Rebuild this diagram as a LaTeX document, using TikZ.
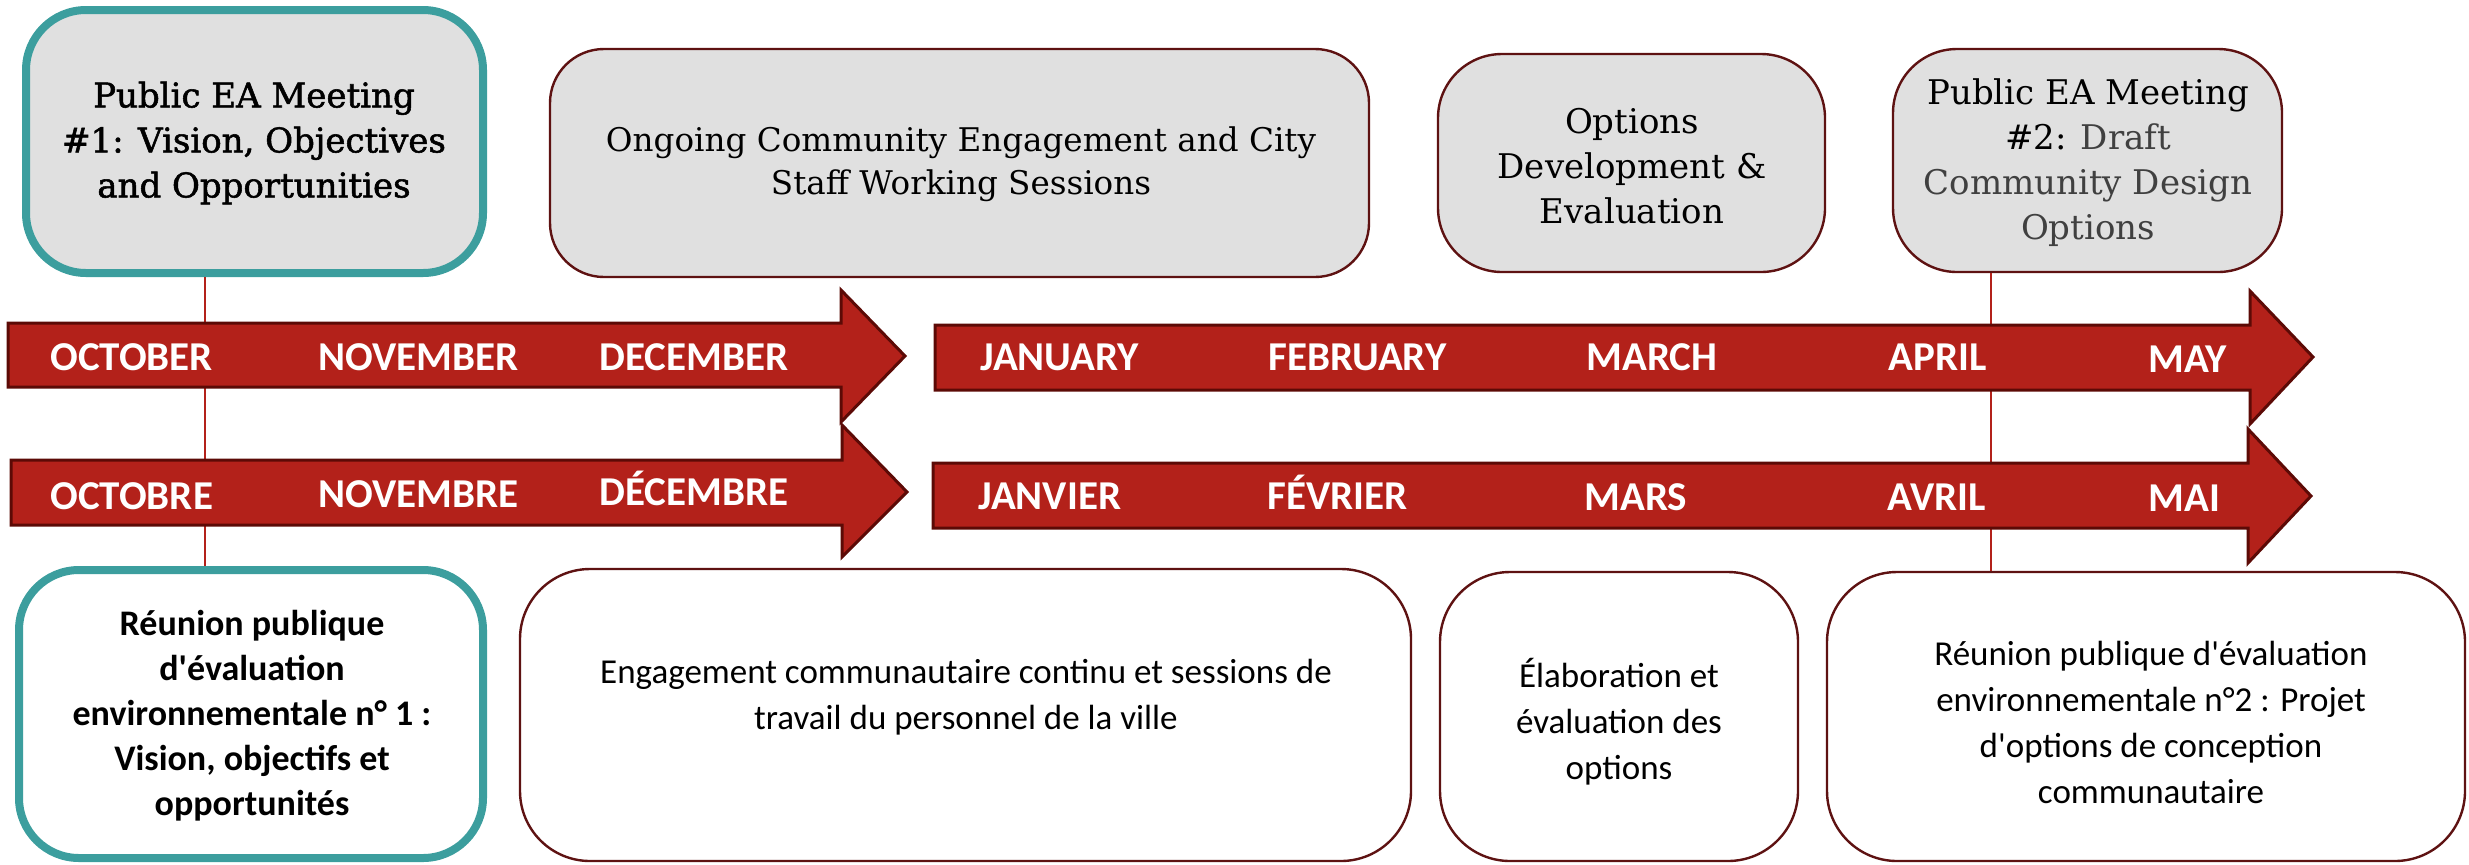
\documentclass[tikz,border=0pt]{standalone}
\usepackage{fontspec}
\setmainfont{DejaVu Serif}
\newfontfamily\calfont{Carlito}
\newfontfamily\serfont{DejaVu Serif}
\newfontfamily\serMfont[FakeBold=1.6]{DejaVu Serif}
\definecolor{arrred}{HTML}{B3211A}
\definecolor{arrdark}{HTML}{5C0A06}
\definecolor{boxgray}{HTML}{E0E0E0}
\definecolor{boxline}{HTML}{5E1212}
\definecolor{tealc}{HTML}{3C9E9E}
\definecolor{greytxt}{HTML}{404040}
\begin{document}
\begin{tikzpicture}[x=0.5pt,y=-0.5pt,
  graybox/.style={draw=boxline, line width=1.2pt, fill=boxgray, rounded corners=30pt, inner sep=0pt},
  whitebox/.style={draw=boxline, line width=1.2pt, fill=white, rounded corners=35pt, inner sep=0pt},
  tealgray/.style={draw=tealc, line width=4pt, fill=boxgray, rounded corners=30pt, inner sep=0pt},
  tealwhite/.style={draw=tealc, line width=4pt, fill=white, rounded corners=30pt, inner sep=0pt},
  arrowbody/.style={fill=arrred, draw=arrdark, line width=1.5pt, line join=miter},
  month/.style={anchor=base west, inner sep=0pt, text=white, font=\calfont\bfseries\fontsize{20.5}{24}\selectfont},
  sertxt/.style={align=center, inner sep=0pt, font=\serfont\fontsize{17}{22.5}\selectfont},
  sertxtM/.style={align=center, inner sep=0pt, font=\serMfont\fontsize{17}{22.5}\selectfont},
  caltxt/.style={align=center, inner sep=0pt, font=\calfont\fontsize{17.5}{23}\selectfont},
  caltxtB/.style={align=center, inner sep=0pt, font=\calfont\bfseries\fontsize{18}{22.5}\selectfont},
  conn/.style={draw=arrred, line width=1.4pt}]
\useasboundingbox (0,0) rectangle (2469,864);

% boxes (positions)
\node[tealgray, minimum width=228.5pt, minimum height=131.5pt] (b1) at (254.5,141.5) {};
\node[graybox, rounded corners=27pt, minimum width=409.5pt, minimum height=114pt] (b2) at (959.5,163) {};
\node[graybox, rounded corners=32pt, minimum width=193.5pt, minimum height=109pt] (b3) at (1631.5,163) {};
\node[graybox, rounded corners=32pt, minimum width=194.5pt, minimum height=111.5pt] (b4) at (2087.5,160.5) {};
\node[tealwhite, minimum width=232pt, minimum height=144pt] (b5) at (251,714) {};
\node[whitebox, minimum width=445.5pt, minimum height=146pt] (b6) at (965.5,715) {};
\node[whitebox, minimum width=179pt, minimum height=144.5pt] (b7) at (1619,716.5) {};
\node[whitebox, minimum width=319pt, minimum height=144.5pt] (b8) at (2146,716.5) {};

% connectors (behind arrows)
\coordinate (l1) at (205,0);
\coordinate (l2) at (1991,0);
\draw[conn] (l1 |- b1.south) -- (l1 |- b5.north);
\draw[conn] (l2 |- b4.south) -- (l2 |- b8.north);

% timeline arrows
\path[arrowbody] (8,323) -- (841,323) -- (841,290) -- (905,356) -- (841,422) -- (841,387) -- (8,387) -- cycle;
\path[arrowbody] (11,460) -- (842,460) -- (842,425) -- (907,492) -- (842,557) -- (842,525) -- (11,525) -- cycle;
\path[arrowbody] (935,325) -- (2250,325) -- (2250,291) -- (2313,357) -- (2250,424) -- (2250,390) -- (935,390) -- cycle;
\path[arrowbody] (933,463) -- (2248,463) -- (2248,429) -- (2311,496) -- (2248,563) -- (2248,528) -- (933,528) -- cycle;

% month labels
\node[month] (m1) at (50,370) {OCTOBER};
\node[month] (m2) at (318,370) {NOVEMBER};
\node[month] (m3) at (599,370) {DECEMBER};
\node[month] (m4) at (980,370) {JANUARY};
\node[month] (m5) at (1268,370) {FEBRUARY};
\node[month] (m6) at (1586,370) {MARCH};
\node[month] (m7) at (1888,370) {APRIL};
\node[month] (m8) at (2148,372) {MAY};
\node[month] (f1) at (50,509) {OCTOBRE};
\node[month] (f2) at (318,507) {NOVEMBRE};
\node[month] (f3) at (599,505) {DÉCEMBRE};
\node[month] (f4) at (978,509) {JANVIER};
\node[month] (f5) at (1267,509) {FÉVRIER};
\node[month] (f6) at (1584,510) {MARS};
\node[month] (f7) at (1887,510) {AVRIL};
\node[month] (f8) at (2148,511) {MAI};

% box texts
\node[sertxtM] (t1) at (254,143) {Public EA Meeting\\\#1: Vision, Objectives\\and Opportunities};
\node[sertxt, font=\serfont\fontsize{16.3}{21.5}\selectfont] (t2) at (961,164) {Ongoing Community Engagement and City\\Staff Working Sessions};
\node[sertxt] (t3) at (1632,166) {Options\\Development \&\\Evaluation};
\node[sertxt] (t4) at (2088,163) {Public EA Meeting\\\#2: \textcolor{greytxt}{Draft}\\\textcolor{greytxt}{Community Design}\\\textcolor{greytxt}{Options}};
\node[caltxtB] (t5) at (252,716) {Réunion publique\\d'évaluation\\environnementale n° 1 :\\Vision, objectifs et\\opportunités};
\node[caltxt] (t6) at (966,697) {Engagement communautaire continu et sessions de\\travail du personnel de la ville};
\node[caltxt] (t7) at (1619,722) {Élaboration et\\évaluation des\\options};
\node[caltxt] (t8) at (2151,722) {Réunion publique d'évaluation\\environnementale n°2 : Projet\\d'options de conception\\communautaire};
\end{tikzpicture}
\end{document}
